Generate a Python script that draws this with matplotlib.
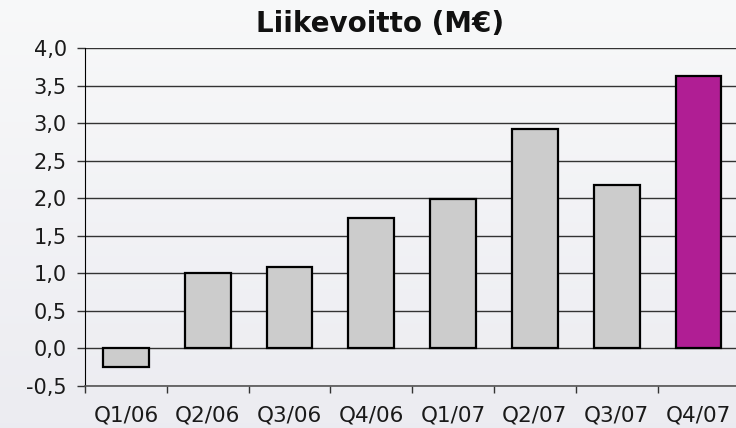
import numpy as np
import matplotlib.pyplot as plt
from matplotlib.ticker import FuncFormatter, FixedLocator

## Data
quarters = ["Q1/06", "Q2/06", "Q3/06", "Q4/06", "Q1/07", "Q2/07", "Q3/07", "Q4/07"]
profit = [-0.24, 1.01, 1.09, 1.73, 1.99, 2.92, 2.18, 3.62]
colors = ["#cccccc"] * 7 + ["#b01e94"]

fig = plt.figure(figsize=(7.36, 4.28), dpi=100)

# Background gradient
bg = fig.add_axes([0, 0, 1, 1], zorder=-10)
grad = np.linspace(0, 1, 256).reshape(-1, 1)
top = np.array([0.972, 0.975, 0.978])
bottom = np.array([0.925, 0.925, 0.945])
img = top + (bottom - top) * grad[..., None]
bg.imshow(img, aspect="auto", extent=[0, 1, 0, 1])
bg.axis("off")

ax = fig.add_axes([0.1155, 0.098, 0.889, 0.79])
ax.patch.set_alpha(0)

x = np.arange(len(quarters))
ax.bar(x, profit, width=0.56, color=colors, edgecolor="black", linewidth=1.6, zorder=3)

ax.set_xlim(-0.5, len(quarters) - 0.5)
ax.set_ylim(-0.5, 4.0)
ax.set_yticks(np.arange(-0.5, 4.01, 0.5))
ax.yaxis.set_major_formatter(FuncFormatter(lambda v, p: f"{v:.1f}".replace(".", ",")))
ax.grid(axis="y", color="#333333", linewidth=1.0, zorder=1)

# x ticks at category boundaries, labels at centres
ax.xaxis.set_major_locator(FixedLocator(np.arange(-0.5, len(quarters), 1.0)))
ax.xaxis.set_minor_locator(FixedLocator(x))
ax.set_xticklabels([])
ax.set_xticklabels(quarters, minor=True)
ax.tick_params(axis="x", which="major", length=5, width=1, color="#333333")
ax.tick_params(axis="x", which="minor", length=0, pad=14, labelsize=15.5, labelcolor="#1a1a1a")
ax.tick_params(axis="y", length=6, width=1, color="#333333", pad=7, labelsize=15, labelcolor="#1a1a1a")

for side in ["top", "right"]:
    ax.spines[side].set_visible(False)
ax.spines["left"].set_color("black")
ax.spines["bottom"].set_color("#555555")
ax.spines["bottom"].set_linewidth(1.2)

fig.text(0.516, 0.944, "Liikevoitto (M€)", ha="center", va="center",
         fontsize=20, fontweight="bold", color="#111111")

plt.savefig("out.png", dpi=100)
